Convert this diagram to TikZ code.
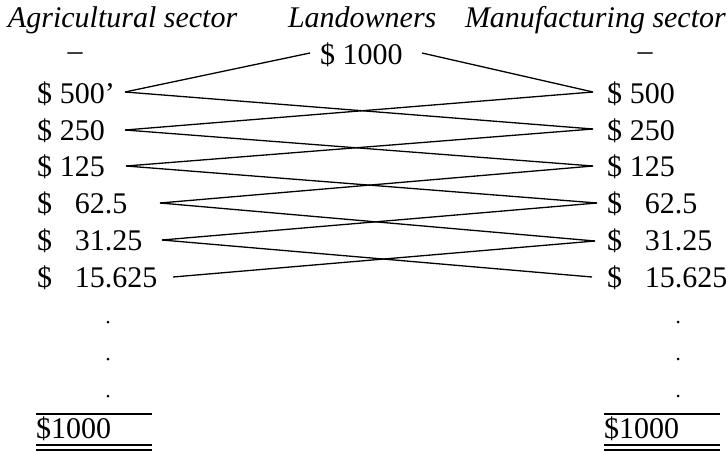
\documentclass[tikz,border=0pt]{standalone}
\usepackage{fontspec}
\setmainfont{Liberation Serif}
\begin{document}
\begin{tikzpicture}[x=1pt,y=-1pt,
  lbl/.style={inner sep=0pt,outer sep=0pt,anchor=base west,font=\fontsize{30}{36}\selectfont},
  hdr/.style={lbl,font=\fontsize{30}{36}\selectfont\itshape},
  flow/.style={line width=1.3pt,black},
  rule/.style={line width=1.3pt,black},
  dotm/.style={circle,fill=black,inner sep=0pt,minimum size=3pt}]
\useasboundingbox (0,0) rectangle (727,452);
% headers
\node[hdr] (hA) at (8,28) {Agricultural sector};
\node[hdr] (hL) at (288,28) {Landowners};
\node[hdr] (hM) at (465,28) {Manufacturing sector};
% top row
\node[lbl,anchor=base] (dA) at (75,60) {–};
\node[lbl,anchor=base] (dM) at (645,60) {–};
\node[lbl] (top) at (320,64) {\$ 1000};
% left column
\node[lbl] (a1) at (37,103) {\$\hspace{8pt}500'};
\node[lbl] (a2) at (37,140) {\$\hspace{8pt}250};
\node[lbl] (a3) at (37,176.5) {\$\hspace{8pt}125};
\node[lbl] (a4) at (37,213.5) {\$\hspace{23pt}62.5};
\node[lbl] (a5) at (37,250.5) {\$\hspace{23pt}31.25};
\node[lbl] (a6) at (37,287) {\$\hspace{23pt}15.625};
% right column
\node[lbl] (m1) at (607,103) {\$\hspace{8pt}500};
\node[lbl] (m2) at (607,140) {\$\hspace{8pt}250};
\node[lbl] (m3) at (607,176.5) {\$\hspace{8pt}125};
\node[lbl] (m4) at (607,213.5) {\$\hspace{23pt}62.5};
\node[lbl] (m5) at (607,250.5) {\$\hspace{23pt}31.25};
\node[lbl] (m6) at (607,287) {\$\hspace{23pt}15.625};
% connector end points
\coordinate (TL) at (310,53);
\coordinate (TR) at (422,53);
\coordinate (L1) at (125,92);
\coordinate (L2) at (125,130);
\coordinate (L3) at (126,166);
\coordinate (L4) at (160,203);
\coordinate (L5) at (162,240);
\coordinate (L6) at (173,277);
\coordinate (R1) at (593,92);
\coordinate (R2) at (593,129);
\coordinate (R3) at (593,166);
\coordinate (R4) at (597,203);
\coordinate (R5) at (595,241);
\coordinate (R6) at (592,277);
\draw[flow] (TL) -- (L1);
\draw[flow] (TR) -- (R1);
\foreach \i/\j in {1/2,2/3,3/4,4/5,5/6}{
  \draw[flow] (L\i) -- (R\j);
  \draw[flow] (R\i) -- (L\j);
}
% dots
\foreach \y/\n in {322/1,359/2,396/3}{
  \node[dotm] (pa\n) at (108,\y) {};
  \node[dotm] (pm\n) at (678,\y) {};
}
% totals
\node[lbl] (sa) at (36,438) {\$1000};
\node[lbl] (sm) at (604,438) {\$1000};
\draw[rule] (36,414) -- (152,414);
\draw[rule] (36,445) -- (152,445);
\draw[rule] (36,450) -- (152,450);
\draw[rule] (604,414) -- (720,414);
\draw[rule] (604,445) -- (720,445);
\draw[rule] (604,450) -- (720,450);
\end{tikzpicture}
\end{document}
